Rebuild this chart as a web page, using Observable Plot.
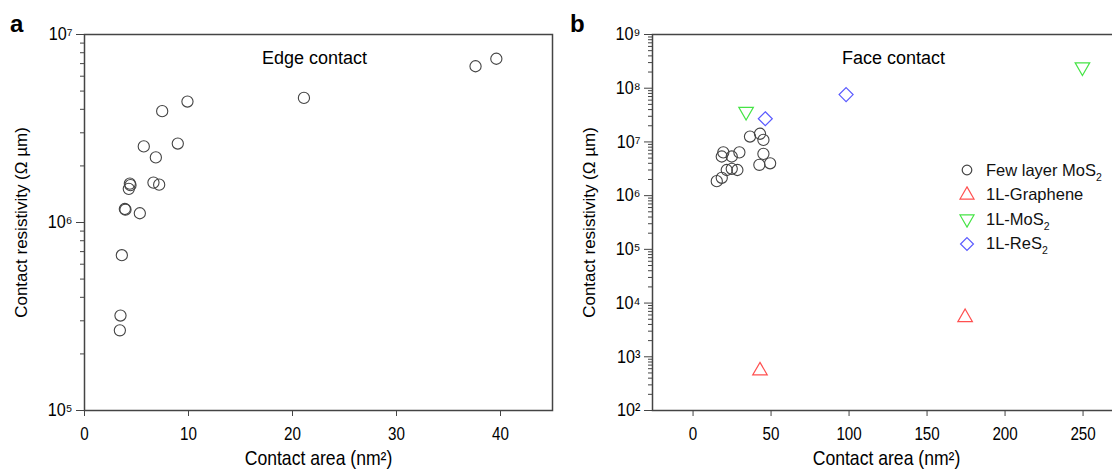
<!DOCTYPE html>
<html><head><meta charset="utf-8">
<script src="https://cdn.jsdelivr.net/npm/d3@7"></script>
<script src="https://cdn.jsdelivr.net/npm/@observablehq/plot@0.6"></script>
<style>
html,body{margin:0;padding:0;background:#fff;overflow:hidden;}
#wrap{position:relative;width:1112px;height:471px;overflow:hidden;font-family:"Liberation Sans",Arial,sans-serif;}
.panel{position:absolute;top:0;width:560px;height:471px;}
.panel svg{max-width:none !important;display:block;}
.tag{position:absolute;font-weight:bold;font-size:24px;line-height:1;color:#000;}
#legend{position:absolute;left:958px;top:158px;font-size:16.5px;color:#111;}
#legend .row{display:flex;align-items:center;height:24.5px;white-space:nowrap;}
#legend svg{width:18px;height:18px;margin-right:10px;}
#legend sub{font-size:10.5px;vertical-align:-5px;line-height:0;}
svg g[aria-label="x-axis tick label"] text{font-size:19px;}
svg g[aria-label="x-axis label"] text{font-size:20px;}
svg g[aria-label="y-axis label"] text{font-size:17px;}
svg g[aria-label="y-axis tick label"] text{font-size:18px;}
</style>
</head><body>
<div id="wrap">
  <div id="pa" class="panel" style="left:0px"></div>
  <div id="pb" class="panel" style="left:560px"></div>
  <div class="tag" style="left:10px;top:12px">a</div>
  <div class="tag" style="left:570px;top:12px">b</div>
  <div id="legend"></div>
</div>
<script>
// ---------- data ----------
// Panel a: edge contact
const edgeArea = [3.4, 3.46, 3.59, 3.88, 3.94, 4.26, 4.36, 4.42, 5.32, 5.7, 6.63, 6.86, 7.18, 7.47, 8.97, 9.9, 21.1, 37.6, 39.6];
const edgeRes  = [2.67e5, 3.2e5, 6.7e5, 1.18e6, 1.17e6, 1.51e6, 1.61e6, 1.58e6, 1.12e6, 2.54e6, 1.63e6, 2.22e6, 1.59e6, 3.91e6, 2.63e6, 4.4e6, 4.6e6, 6.78e6, 7.43e6];

// Panel b: face contact
const fewLayerArea = [36.5, 42.9, 45.1, 45.1, 42.5, 49.4, 19.4, 24.8, 29.7, 18.4, 21.6, 24.8, 28.4, 18.4, 15.2];
const fewLayerRes  = [1.26e7, 1.42e7, 1.09e7, 6.0e6, 3.75e6, 4.0e6, 6.4e6, 5.35e6, 6.4e6, 5.35e6, 3.0e6, 3.16e6, 3.0e6, 2.15e6, 1.86e6];
const grapheneArea = [42.9, 174.4];
const grapheneRes  = [550, 5.4e3];
const mos2Area = [34.0, 249.6];
const mos2Res  = [3.68e7, 2.47e8];
const res2Area = [46.3, 98.1];
const res2Res  = [2.7e7, 7.6e7];

const xTicksA = [0, 10, 20, 30, 40];
const xTicksB = [0, 50, 100, 150, 200, 250];
const yMajorA = [1e5, 1e6, 1e7];
const yMajorB = [1e2, 1e3, 1e4, 1e5, 1e6, 1e7, 1e8, 1e9];

const titleA = "Edge contact";
const titleB = "Face contact";
const xLabel = "Contact area (nm²)";
const yLabel = "Contact resistivity (Ω µm)";
const legendNames = ["Few layer MoS", "1L-Graphene", "1L-MoS", "1L-ReS"];
const legendSubs = ["2", "", "2", "2"];

// ---------- helpers ----------
const supDigits = "⁰¹²³⁴⁵⁶⁷⁸⁹";
const fmt = d => "10" + String(Math.round(Math.log10(d))).split("").map(c => supDigits[+c]).join("");
const minorOf = majors => majors.slice(0, -1).flatMap(m => [2,3,4,5,6,7,8,9].map(k => k * m));
const zip = (xs, ys) => xs.map((x, i) => ({x, y: ys[i]}));

const triangleDown = {
  draw(context, size) {
    const y = -Math.sqrt(size / (Math.sqrt(3) * 3));
    context.moveTo(0, -2 * y);
    context.lineTo(-Math.sqrt(3) * y, y);
    context.lineTo(Math.sqrt(3) * y, y);
    context.closePath();
  }
};

const C_CIRCLE = "#444", C_RED = "#ff5050", C_GREEN = "#45e445", C_BLUE = "#5a5aff";
const AX = "#444";

const common = {
  height: 471, marginTop: 34, marginBottom: 61,
  style: {fontFamily: "Liberation Sans, Arial, sans-serif", fontSize: "16px", color: "#000", background: "transparent", overflow: "visible", maxWidth: "none"}
};

function axes(xTicks, yMajor) {
  return [
    Plot.frame({stroke: AX, strokeWidth: 1.5}),
    Plot.axisY({ticks: minorOf(yMajor), tickSize: 4, tickFormat: () => "", label: null, stroke: AX}),
    Plot.axisY({ticks: yMajor, tickSize: 8, tickPadding: 4, tickFormat: fmt, stroke: AX,
      label: yLabel, labelAnchor: "center", labelOffset: 70, labelArrow: "none"}),
    Plot.axisX({ticks: xTicks, tickSize: 6, tickPadding: 10, stroke: AX,
      label: xLabel, labelAnchor: "center", labelOffset: 54, labelArrow: "none"})
  ];
}

// horizontally condense text of a given axis group (narrow Helvetica look)
function condense(svg, label, sx) {
  svg.querySelectorAll(`g[aria-label="${label}"] text`).forEach(t => {
    const x = +t.getAttribute("x") || 0, y = +t.getAttribute("y") || 0;
    const prev = t.getAttribute("transform") || "";
    t.setAttribute("transform", `${prev} translate(${x},${y}) scale(${sx},1) translate(${-x},${-y})`.trim());
  });
}

const plotA = Plot.plot({
  ...common, width: 560, marginLeft: 84, marginRight: 8,
  x: {domain: [0, 45]},
  y: {type: "log", domain: [1e5, 1e7]},
  marks: [
    ...axes(xTicksA, yMajorA),
    Plot.dot(zip(edgeArea, edgeRes), {x: "x", y: "y", r: 5.6, stroke: C_CIRCLE, strokeWidth: 1.1, fill: "none"}),
    Plot.text([titleA], {frameAnchor: "top", dy: 17, dx: -4, fontSize: 18})
  ]
});
document.getElementById("pa").appendChild(plotA);

const plotB = Plot.plot({
  ...common, width: 560, marginLeft: 92, marginRight: 0,
  x: {domain: [-26, 274]},
  y: {type: "log", domain: [1e2, 1e9]},
  marks: [
    ...axes(xTicksB, yMajorB),
    Plot.dot(zip(fewLayerArea, fewLayerRes), {x: "x", y: "y", r: 5.6, stroke: C_CIRCLE, strokeWidth: 1.1, fill: "none"}),
    Plot.dot(zip(grapheneArea, grapheneRes), {x: "x", y: "y", r: 5.4, symbol: "triangle", stroke: C_RED, strokeWidth: 1.2, fill: "none"}),
    Plot.dot(zip(mos2Area, mos2Res), {x: "x", y: "y", r: 5.4, symbol: triangleDown, stroke: C_GREEN, strokeWidth: 1.2, fill: "none"}),
    Plot.dot(zip(res2Area, res2Res), {x: "x", y: "y", r: 6.3, symbol: "diamond2", stroke: C_BLUE, strokeWidth: 1.2, fill: "none"}),
    Plot.text([titleB], {frameAnchor: "top", dy: 17, dx: 7, fontSize: 18})
  ]
});
document.getElementById("pb").appendChild(plotB);

for (const svg of [plotA, plotB]) {
  condense(svg, "x-axis tick label", 0.8);
  condense(svg, "x-axis label", 0.88);
  condense(svg, "y-axis tick label", 0.9);
}

// ---------- legend ----------
const legSymbols = [d3.symbolCircle, d3.symbolTriangle, triangleDown, d3.symbolDiamond2];
const legColors = [C_CIRCLE, C_RED, C_GREEN, C_BLUE];
const legSizes = [4.8, 5.2, 5.2, 5.8];
const leg = d3.select("#legend");
legendNames.forEach((name, i) => {
  const row = leg.append("div").attr("class", "row");
  const s = row.append("svg").attr("viewBox", "-9 -9 18 18");
  s.append("path").attr("d", d3.symbol(legSymbols[i], Math.PI * legSizes[i] ** 2)())
    .attr("fill", "none").attr("stroke", legColors[i]).attr("stroke-width", 1.2);
  const t = row.append("span").text(name);
  if (legendSubs[i]) t.append("sub").text(legendSubs[i]);
});
</script>
</body></html>
